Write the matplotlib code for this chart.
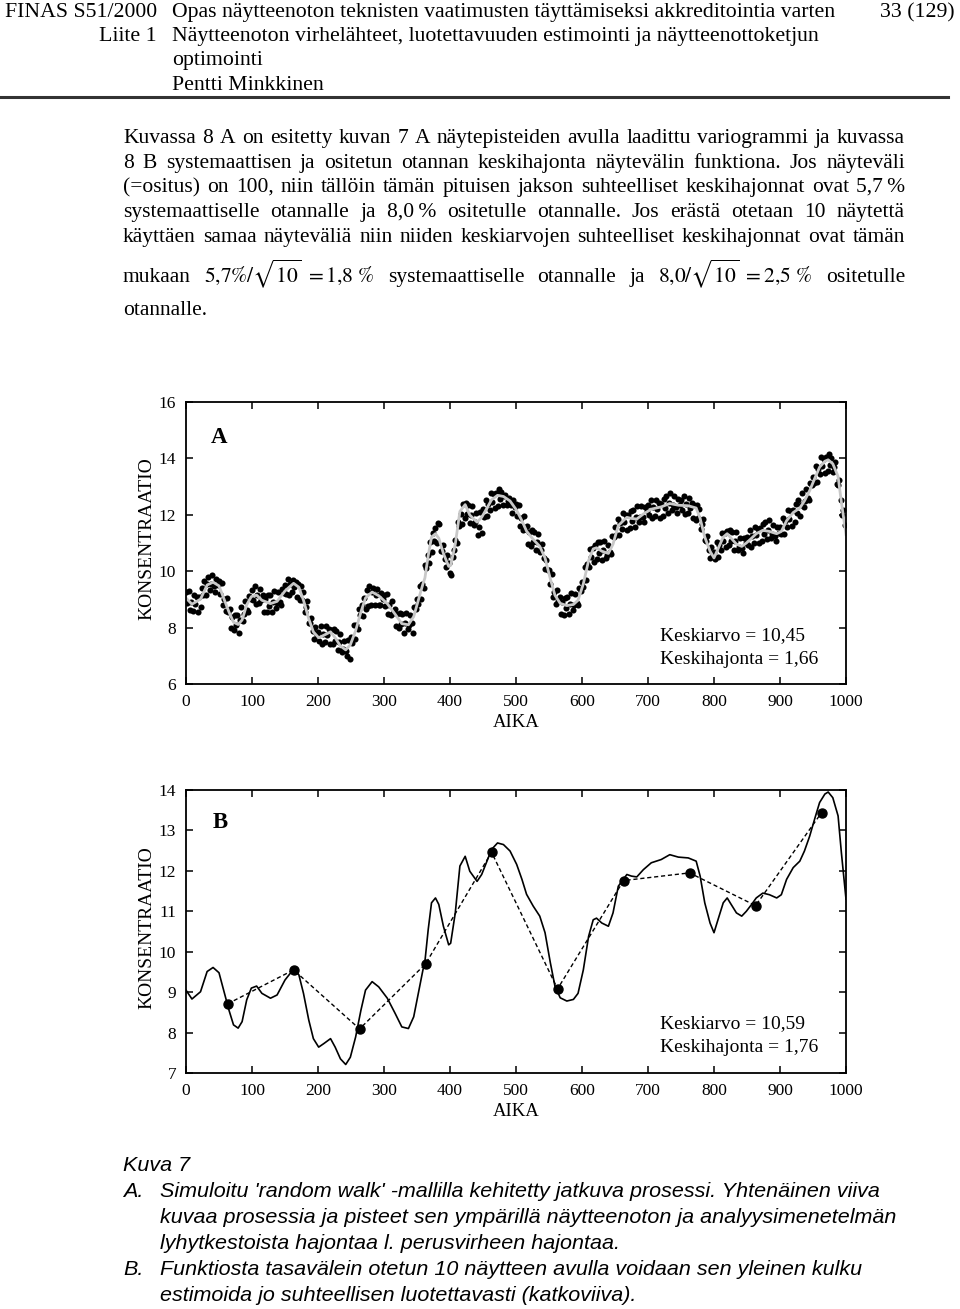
import matplotlib
matplotlib.use("Agg")
import matplotlib.pyplot as plt
from matplotlib import font_manager
from matplotlib.lines import Line2D

W, H = 960, 1309

# --- data ---
curve_x = [0, 9, 22, 32, 41, 50, 57, 65, 72, 79,
           85, 92, 99, 107, 115, 128, 138, 150, 163, 171,
           178, 186, 193, 201, 209, 219, 226, 234, 242, 249,
           257, 265, 272, 282, 292, 305, 317, 327, 337, 345,
           352, 359, 362, 367, 372, 378, 383, 390, 398, 401,
           408, 415, 423, 430, 441, 448, 456, 463, 472, 481,
           491, 501, 509, 516, 526, 536, 544, 552, 559, 567,
           577, 587, 594, 602, 610, 617, 622, 630, 640, 647,
           655, 663, 668, 675, 683, 693, 705, 720, 733, 746,
           761, 773, 779, 786, 794, 800, 806, 814, 820, 826,
           834, 842, 849, 857, 864, 874, 884, 895, 902, 910,
           920, 930, 937, 945, 953, 960, 968, 973, 980, 988,
           993, 1000]
curve_y = [9.05, 8.83, 9.01, 9.51, 9.61, 9.48, 9.05, 8.56, 8.19, 8.11,
           8.27, 8.81, 9.10, 9.15, 8.97, 8.85, 8.93, 9.30, 9.57, 9.43,
           8.97, 8.31, 7.85, 7.64, 7.73, 7.85, 7.64, 7.35, 7.21, 7.39,
           7.89, 8.55, 9.05, 9.26, 9.13, 8.85, 8.47, 8.14, 8.10, 8.39,
           8.97, 9.55, 9.76, 10.55, 11.21, 11.33, 11.17, 10.63, 10.17, 10.21,
           10.96, 12.12, 12.36, 11.99, 11.74, 11.91, 12.24, 12.53, 12.69, 12.65,
           12.49, 12.16, 11.79, 11.42, 11.13, 10.88, 10.47, 9.73, 9.15, 8.86,
           8.78, 8.82, 8.97, 9.55, 10.38, 10.79, 10.83, 10.71, 10.63, 10.96,
           11.62, 11.80, 11.91, 11.87, 11.85, 12.03, 12.20, 12.28, 12.40, 12.34,
           12.32, 12.24, 11.87, 11.21, 10.71, 10.47, 10.79, 11.21, 11.33, 11.17,
           10.96, 10.88, 11.00, 11.17, 11.33, 11.45, 11.41, 11.33, 11.41, 11.79,
           12.08, 12.24, 12.49, 12.86, 13.31, 13.69, 13.90, 13.95, 13.81, 13.36,
           12.45, 11.30]

# measured points around the process (panel A), one every 2 time units
scatter_x = list(range(0, 1000, 2))
scatter_y = [
    9.25, 8.86, 9.31, 8.62, 8.92, 8.58, 9.16, 8.84, 9.07, 8.55,
    9.08, 8.72, 9.42, 9.16, 9.66, 9.15, 9.53, 9.80, 9.35, 9.53,
    9.85, 9.48, 9.25, 9.73, 9.50, 9.67, 9.20, 9.57, 8.80, 9.02,
    8.60, 9.04, 8.57, 8.66, 7.99, 8.38, 7.90, 8.46, 8.08, 8.44,
    7.81, 8.27, 8.73, 8.23, 8.49, 8.95, 8.64, 8.54, 9.13, 9.03,
    9.32, 8.97, 9.47, 8.82, 9.17, 8.87, 9.38, 8.99, 9.15, 8.56,
    9.02, 8.56, 9.14, 8.78, 9.16, 8.55, 8.92, 9.29, 8.71, 8.88,
    9.25, 8.92, 8.79, 9.36, 9.23, 9.50, 9.20, 9.74, 9.14, 9.53,
    9.28, 9.70, 9.45, 9.63, 9.07, 9.55, 8.98, 9.46, 8.99, 9.27,
    8.55, 8.74, 8.93, 8.17, 8.16, 8.35, 7.87, 7.59, 8.01, 7.73,
    7.85, 7.52, 8.04, 7.41, 7.78, 7.50, 8.07, 7.73, 7.95, 7.41,
    7.93, 7.41, 7.95, 7.53, 7.87, 7.20, 7.49, 7.79, 7.13, 7.23,
    7.52, 7.17, 7.01, 7.56, 6.88, 7.65, 7.45, 8.10, 7.60, 8.10,
    7.95, 8.65, 8.45, 8.80, 8.40, 9.05, 8.66, 9.32, 8.78, 9.48,
    8.80, 9.28, 9.42, 8.80, 9.14, 9.38, 8.80, 8.79, 9.24, 9.00,
    9.15, 8.75, 9.20, 8.50, 8.80, 8.45, 8.93, 8.52, 8.65, 8.04,
    8.47, 7.97, 8.52, 8.12, 8.47, 7.82, 8.18, 8.53, 7.94, 8.09,
    8.45, 8.18, 7.80, 8.74, 8.67, 9.00, 8.82, 9.49, 9.01, 9.53,
    9.40, 10.21, 10.12, 10.58, 10.29, 11.05, 10.67, 11.34, 11.06, 11.53,
    11.00, 11.72, 11.68, 10.70, 10.71, 10.93, 10.44, 10.16, 10.57, 10.29,
    9.95, 9.88, 10.50, 10.75, 11.09, 11.00, 11.76, 11.62, 12.03, 11.69,
    12.40, 11.89, 12.43, 12.02, 12.36, 11.70, 12.00, 12.30, 11.65, 11.75,
    12.05, 11.30, 11.55, 12.10, 11.35, 12.20, 11.93, 12.52, 11.95, 12.39,
    12.17, 12.77, 12.47, 12.73, 12.23, 12.78, 12.32, 12.92, 12.56, 12.80,
    12.35, 12.67, 12.70, 12.36, 12.48, 12.60, 12.34, 12.08, 12.52, 12.26,
    12.40, 11.95, 12.36, 11.61, 11.87, 11.47, 11.94, 11.50, 11.62, 10.98,
    11.40, 10.90, 11.45, 11.05, 11.40, 10.75, 11.04, 11.33, 10.67, 10.76,
    10.95, 10.47, 10.09, 10.41, 10.03, 10.05, 9.55, 9.89, 9.09, 9.28,
    8.83, 9.33, 8.93, 9.07, 8.47, 8.92, 8.46, 9.05, 8.70, 9.09,
    8.48, 8.85, 9.22, 8.64, 8.81, 9.18, 8.88, 8.79, 9.39, 9.30,
    9.60, 9.45, 10.15, 9.70, 10.25, 10.15, 10.79, 10.52, 10.81, 10.34,
    10.93, 10.45, 11.03, 10.65, 11.03, 10.40, 10.74, 11.07, 10.46, 10.59,
    10.93, 10.67, 10.62, 11.26, 11.21, 11.55, 11.28, 11.86, 11.29, 11.72,
    11.50, 12.08, 11.76, 11.99, 11.47, 12.00, 11.54, 12.13, 11.77, 12.16,
    11.55, 11.93, 12.31, 11.74, 11.92, 12.30, 11.93, 11.76, 12.29, 12.12,
    12.35, 12.01, 12.53, 11.89, 12.26, 11.97, 12.53, 12.19, 12.41, 11.87,
    12.38, 11.95, 12.57, 12.24, 12.66, 12.08, 12.43, 12.78, 12.18, 12.33,
    12.68, 12.27, 12.06, 12.55, 12.34, 12.53, 12.18, 12.68, 12.02, 12.37,
    12.07, 12.61, 12.25, 12.43, 11.87, 12.36, 11.82, 12.33, 11.88, 12.19,
    11.50, 11.68, 11.86, 11.09, 11.07, 11.25, 10.75, 10.46, 10.86, 10.57,
    10.67, 10.43, 11.03, 10.49, 10.94, 10.75, 11.36, 11.08, 11.34, 10.86,
    11.42, 10.92, 11.46, 11.06, 11.40, 10.75, 11.07, 11.38, 10.75, 10.86,
    11.18, 10.81, 10.64, 11.16, 10.99, 11.22, 10.92, 11.46, 10.86, 11.25,
    11.00, 11.58, 11.27, 11.50, 10.99, 11.52, 11.07, 11.67, 11.33, 11.73,
    11.13, 11.46, 11.80, 11.18, 11.32, 11.65, 11.26, 11.06, 11.57, 11.37,
    11.58, 11.31, 11.90, 11.33, 11.77, 11.55, 12.16, 11.86, 12.12, 11.62,
    12.18, 11.76, 12.39, 12.08, 12.51, 11.94, 12.36, 12.78, 12.26, 12.48,
    12.90, 12.61, 12.52, 13.13, 13.04, 13.35, 13.11, 13.72, 13.17, 13.63,
    13.44, 14.04, 13.74, 13.99, 13.49, 14.04, 13.57, 14.14, 13.77, 14.00,
    13.52, 13.70, 13.87, 13.10, 13.07, 13.25, 12.52, 11.99, 12.16, 11.63,
]

# 10 samples taken at equal spacing (panel B)
sample_x = [63, 163, 263, 363, 463, 563, 663, 763, 863, 963]
sample_y = [8.71, 9.55, 8.09, 9.70, 12.46, 9.08, 11.76, 11.95, 11.14, 13.44]

x_ticks = [0, 100, 200, 300, 400, 500, 600, 700, 800, 900, 1000]
stats_a = ["Keskiarvo = 10,45", "Keskihajonta = 1,66"]
stats_b = ["Keskiarvo = 10,59", "Keskihajonta = 1,76"]

plt.rcParams["font.family"] = ["Liberation Serif", "DejaVu Serif"]
plt.rcParams["mathtext.fontset"] = "stix"

fig = plt.figure(figsize=(W / 100, H / 100), dpi=100)
rend = fig.canvas.get_renderer()


def put(x, y, s, **kw):
    # x, y in pixels from the top-left corner
    return fig.text(x / W, 1 - y / H, s, **kw)


def width(t):
    return t.get_window_extent(rend).width


def fit(t, target):
    t.set_fontsize(t.get_fontsize() * target / width(t))
    return t.get_fontsize()


def justify(tokens, x0, x1, y, size):
    ts = [put(0, y, tok, fontsize=size, va="baseline") for tok in tokens]
    ws = [width(t) for t in ts]
    gap = (x1 - x0 - sum(ws)) / (len(ts) - 1)
    x = x0
    for t, w in zip(ts, ws):
        t.set_x(x / W)
        x += w + gap


# --- header ---
t = put(172, 17, "Opas näytteenoton teknisten vaatimusten täyttämiseksi akkreditointia varten",
        fontsize=14, va="baseline")
hs = fit(t, 666)
put(157, 17, "FINAS S51/2000", fontsize=hs, va="baseline", ha="right")
put(955, 17, "33 (129)", fontsize=hs, va="baseline", ha="right")
put(157, 41, "Liite 1", fontsize=hs, va="baseline", ha="right")
put(172, 41, "Näytteenoton virhelähteet, luotettavuuden estimointi ja näytteenottoketjun",
    fontsize=hs, va="baseline")
put(172, 65, "optimointi", fontsize=hs, va="baseline")
put(172, 90, "Pentti Minkkinen", fontsize=hs, va="baseline")
fig.add_artist(Line2D([0, 948 / W], [1 - 97 / H] * 2, lw=2.2, color="#333333"))

# --- paragraph ---
ps = 15.5
lines = [
    "Kuvassa 8 A on esitetty kuvan 7 A näytepisteiden avulla laadittu variogrammi ja kuvassa",
    "8 B systemaattisen ja ositetun otannan keskihajonta näytevälin funktiona. Jos näyteväli",
    "(=ositus) on 100, niin tällöin tämän pituisen jakson suhteelliset keskihajonnat ovat 5,7\u2009%",
    "systemaattiselle otannalle ja 8,0\u2009% ositetulle otannalle. Jos erästä otetaan 10 näytettä",
    "käyttäen samaa näyteväliä niin niiden keskiarvojen suhteelliset keskihajonnat ovat tämän",
]
base = [143, 168, 192, 217, 242]
for s, y in zip(lines, base):
    justify(s.split(" "), 123, 905, y, ps)
justify(["mukaan", r"$5{,}7\%/\sqrt{10}\ =1{,}8\ \%$", "systemaattiselle", "otannalle", "ja",
         r"$8{,}0/\sqrt{10}\ =2{,}5\ \%$", "ositetulle"], 123, 905, 282, ps)
put(123, 315, "otannalle.", fontsize=ps, va="baseline")


# --- charts ---
def panel(top, bottom, ymin, ymax):
    ax = fig.add_axes([186 / W, 1 - bottom / H, 660 / W, (bottom - top) / H])
    ax.set_xlim(0, 1000)
    ax.set_ylim(ymin, ymax)
    ax.set_xticks(x_ticks)
    ax.tick_params(direction="in", top=True, right=True, length=5, width=1.1,
                   labelsize=12.5, pad=7)
    for sp in ax.spines.values():
        sp.set_linewidth(1.3)
    fig.text(147 / W, 1 - (top + bottom - 8) / 2 / H, "KONSENTRAATIO", rotation=90,
             ha="center", va="center", fontsize=14)
    put(516, bottom + 39, "AIKA", ha="center", va="center", fontsize=13.5)
    return ax


axA = panel(402, 684, 6, 16)
axA.set_yticks([6, 8, 10, 12, 14, 16])
axA.plot(scatter_x, scatter_y, "o", ms=4.4, color="black", mec="none")
axA.plot(curve_x, curve_y, color="#c8c8c8", lw=2.0)
put(219, 437, "A", fontsize=16.5, fontweight="bold", ha="center", va="center")
put(660, 636, stats_a[0], fontsize=14, va="center")
put(660, 660, stats_a[1], fontsize=14, va="center")

axB = panel(790, 1073, 7, 14)
axB.set_yticks([7, 8, 9, 10, 11, 12, 13, 14])
axB.plot(curve_x, curve_y, color="black", lw=1.2)
axB.plot(sample_x, sample_y, color="black", lw=1.0, ls=(0, (3, 2)),
         marker="o", ms=6.5)
put(220, 823, "B", fontsize=16.5, fontweight="bold", ha="center", va="center")
put(660, 1024, stats_b[0], fontsize=14, va="center")
put(660, 1047, stats_b[1], fontsize=14, va="center")

# --- caption ---
names = {f.name for f in font_manager.fontManager.ttflist}
cap_fam = "Liberation Sans Narrow" if "Liberation Sans Narrow" in names else "Liberation Sans"
t = put(160, 1197, "Simuloitu 'random walk' -mallilla kehitetty jatkuva prosessi. Yhtenäinen viiva",
        family=cap_fam, style="italic", fontsize=14, va="baseline")
cs = fit(t, 720)
cap = dict(family=cap_fam, style="italic", fontsize=cs, va="baseline")
put(123, 1171, "Kuva 7", **cap)
put(123, 1197, "A.", **cap)
put(160, 1223, "kuvaa prosessia ja pisteet sen ympärillä näytteenoton ja analyysimenetelmän", **cap)
put(160, 1249, "lyhytkestoista hajontaa l. perusvirheen hajontaa.", **cap)
put(123, 1275, "B.", **cap)
put(160, 1275, "Funktiosta tasavälein otetun 10 näytteen avulla voidaan sen yleinen kulku", **cap)
put(160, 1301, "estimoida jo suhteellisen luotettavasti (katkoviiva).", **cap)

fig.savefig("out.png", dpi=100)
